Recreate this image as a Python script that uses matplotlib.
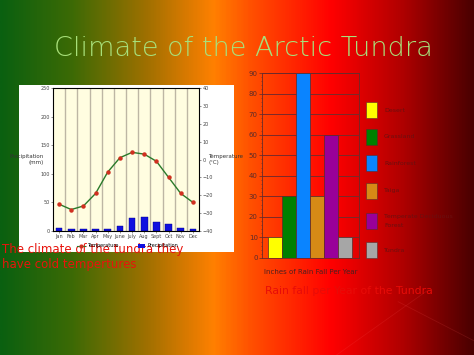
import numpy as np
import matplotlib
matplotlib.use("Agg")
from matplotlib import pyplot as plt
from matplotlib.colors import LinearSegmentedColormap
from matplotlib.patches import Rectangle
from matplotlib.lines import Line2D

# climate chart data
months = ["Jan", "Feb", "Mar", "Apr", "May", "June", "July", "Aug", "Sept", "Oct", "Nov", "Dec"]
precip = [5, 4, 4, 4, 4, 8, 22, 25, 16, 12, 6, 4]               # [mm]
temp = [-25, -28, -26, -19, -7, 1, 4, 3, -1, -10, -19, -24]     # [deg C]

# biome rainfall data
biomes = ["Desert", "Grassland", "Rainforest", "Taiga", "Temperate Deciduous\nForest", "Tundra"]
rain = [10, 30, 90, 30, 60, 10]  # [inches per year]
biome_colors = ["#ffff00", "#008000", "#0a84ff", "#d68a16", "#990099", "#a6a6a6"]

W, H = 474, 355
fig = plt.figure(figsize=(W / 100, H / 100), dpi=100)

def box(x0, y0, x1, y1):
    """pixel box (top-left origin) -> figure fraction rect"""
    return [x0 / W, 1 - y1 / H, (x1 - x0) / W, (y1 - y0) / H]

# background gradient
bg = fig.add_axes([0, 0, 1, 1])
cmap = LinearSegmentedColormap.from_list("slide", [
    (0.0, "#0a6010"), (0.15, "#3c6a05"), (0.31, "#a07000"), (0.45, "#ff8000"),
    (0.53, "#ff5000"), (0.70, "#ff0000"), (0.85, "#b00000"), (1.0, "#4a0000")])
bg.imshow(np.linspace(0, 1, 600)[None, :], aspect="auto", cmap=cmap, extent=[0, 1, 0, 1])
bg.plot([0.71, 0.90], [0.0, 0.18], color="#ff6060", alpha=0.15, lw=0.6)
bg.plot([0.84, 1.0], [0.15, 0.04], color="#ff6060", alpha=0.15, lw=0.6)
bg.set_xlim(0, 1)
bg.set_ylim(0, 1)
bg.axis("off")

fig.text(243 / W, 1 - 49 / H, "Climate of the Arctic Tundra", ha="center", va="center",
         fontsize=19.5, color="#a8e07a", family="DejaVu Sans", fontweight="light")

# white card for climate chart
fig.patches.append(Rectangle((19 / W, 1 - 252 / H), 215 / W, 167 / H,
                             transform=fig.transFigure, facecolor="white", zorder=1))

ax = fig.add_axes(box(53, 88, 199, 231), zorder=2)
ax.set_facecolor("#fffde0")
x = np.arange(len(months))
ax.bar(x, precip, width=0.55, color="#1010e0", edgecolor="#000080", linewidth=0.3, zorder=3)
for k in range(len(months) - 1):
    ax.axvline(k + 0.5, color="#bdb6a4", lw=1.0, zorder=1)
ax.set_xlim(-0.5, len(months) - 0.5)
ax.set_ylim(0, 250)
ax.set_yticks(range(0, 251, 50))
ax.set_xticks(x, months)
ax.tick_params(labelsize=3.5, colors="#444444", length=1.5, width=0.4, pad=1)
ax.set_ylabel("Precipitation\n(mm)", rotation=0, fontsize=4, color="#333333",
              va="center", ha="right")
ax.yaxis.set_label_coords(-0.06, 0.5)
for s in ax.spines.values():
    s.set_linewidth(0.5)

ax2 = ax.twinx()
ax2.plot(x, temp, color="#2a7a2a", lw=1.0, marker="o", markersize=2.2,
         markerfacecolor="#d03020", markeredgecolor="#d03020", zorder=4)
ax2.set_ylim(-40, 40)
ax2.set_yticks(range(-40, 41, 10))
ax2.tick_params(labelsize=3.5, colors="#444444", length=1.5, width=0.4, pad=1)
ax2.set_ylabel("Temperature\n(\u00b0C)", rotation=0, fontsize=4, color="#333333",
               va="center", ha="left")
ax2.yaxis.set_label_coords(1.065, 0.5)

handles = [Line2D([], [], color="#2a7a2a", marker="o", markersize=2, markerfacecolor="#d03020",
                  markeredgecolor="#d03020", lw=0.8),
           Rectangle((0, 0), 1, 1, facecolor="#1010e0")]
fig.legend(handles, ["Temperature", "Precipitation"], loc="center",
           bbox_to_anchor=(128 / W, 1 - 246 / H), ncol=2, fontsize=3.5, frameon=False,
           handlelength=1.5, columnspacing=4, handletextpad=0.5)

fig.text(2 / W, 1 - 257 / H, "The climate of the tundra they\nhave cold tempertures",
         ha="left", va="center", fontsize=8.5, color="#e8140c", linespacing=1.2, zorder=5)

# biome bar chart
bx = fig.add_axes(box(262, 73, 359, 258), zorder=2)
bx.patch.set_alpha(0)
bx.bar(np.arange(len(rain)), rain, width=1.0, color=biome_colors,
       edgecolor="#5a2a2a", linewidth=0.5, zorder=3)
bx.set_xlim(-0.93, 6.0)
bx.set_ylim(0, 90)
bx.set_yticks(range(0, 91, 10))
bx.set_yticks(range(0, 91, 2), minor=True)
bx.grid(axis="y", color="#7a2a2a", lw=0.7, zorder=0)
bx.set_xticks([])
bx.set_xlabel("Inches of Rain Fall Per Year", fontsize=5, color="#4a2020", labelpad=8)
bx.tick_params(axis="y", labelsize=5, colors="#5a2a2a", length=2, width=0.5, pad=1)
bx.tick_params(axis="y", which="minor", length=1, width=0.4, colors="#5a2a2a")
for s in bx.spines.values():
    s.set_color("#6a2a2a")
    s.set_linewidth(0.6)

# legend
ys = [110, 137, 163, 191, 221, 250]
for y, name, c in zip(ys, biomes, biome_colors):
    fig.patches.append(Rectangle((366 / W, 1 - (y + 8) / H), 11 / W, 16 / H,
                                 transform=fig.transFigure, facecolor=c,
                                 edgecolor="#5a2a2a", linewidth=0.4, zorder=3))
    fig.text(384 / W, 1 - y / H, name, fontsize=4.5, color="#6a1010", va="center",
             ha="left", linespacing=1.8, zorder=4)

fig.text(265 / W, 1 - 291 / H, "Rain fall per Year of the Tundra", ha="left", va="center",
         fontsize=7.8, color="#e80c08", zorder=5)

fig.savefig("out.png", dpi=100)
